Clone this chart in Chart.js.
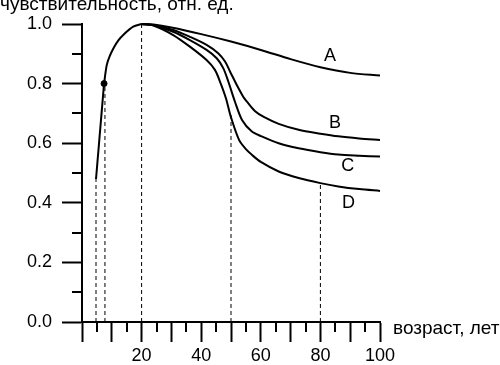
<!DOCTYPE html>
<html>
<head>
<meta charset="utf-8">
<script src="https://cdn.jsdelivr.net/npm/chart.js@4.4.1/dist/chart.umd.min.js"></script>
<style>
  html, body { margin: 0; padding: 0; background: #fff; }
</style>
</head>
<body>
<canvas id="chart" width="500" height="365"></canvas>
<script>
/* ---------- data (age in years, relative sensitivity) ---------- */
const riseAge = [4.7, 7.4];
const riseVal = [0.48, 0.80];

const youngAge = [7.4, 8.3, 9.3, 10.7, 12.2, 14.0, 17.2, 20];
const youngVal = [0.80, 0.862, 0.892, 0.921, 0.945, 0.965, 0.991, 1.0];

const ageA = [20, 24, 30, 40, 50, 60, 70, 80, 90, 100];
const valA = [1.0, 0.998, 0.988, 0.966, 0.941, 0.913, 0.882, 0.855, 0.836, 0.827];

const ageB = [20, 24, 30.6, 36.2, 41.8, 45.7, 48.0, 49.7, 51.9, 54.1, 55.3, 58, 61, 66, 72.7, 80, 86, 93, 100];
const valB = [1.0, 0.997, 0.980, 0.957, 0.930, 0.902, 0.874, 0.840, 0.796, 0.756, 0.740, 0.708, 0.688, 0.665, 0.645, 0.632, 0.623, 0.616, 0.611];

const ageC = [20, 24, 30.6, 36.2, 41.8, 45.2, 47.4, 49.1, 51.3, 53.7, 57, 60, 66, 72.7, 80, 86, 93, 100];
const valC = [1.0, 0.996, 0.974, 0.946, 0.913, 0.885, 0.852, 0.807, 0.740, 0.678, 0.639, 0.624, 0.600, 0.583, 0.570, 0.562, 0.558, 0.555];

const ageD = [20, 24, 30.6, 36.2, 41.8, 44.6, 46.3, 48.3, 49.9, 52.7, 55, 57, 60, 66, 72.7, 80, 86, 93, 100];
const valD = [1.0, 0.995, 0.963, 0.924, 0.879, 0.846, 0.807, 0.751, 0.690, 0.611, 0.580, 0.561, 0.537, 0.505, 0.483, 0.466, 0.455, 0.446, 0.440];

// dashed guide lines: age and the height they reach
const guideAge = [4.7, 7.7, 20, 50, 80];
const guideTop = [0.48, 0.80, 1.0, 0.70, 0.466];

// marked point on the rising part
const dotAge = [7.4];
const dotVal = [0.80];

// curve letters
const labelText = ["A", "B", "C", "D"];
const labelAge = [83.2, 84.9, 89.2, 89.4];
const labelVal = [0.893, 0.667, 0.522, 0.40];

const xTicksLabelled = [20, 40, 60, 80, 100];

const FONT = '"Liberation Sans", Arial, sans-serif';

function pts(xs, ys) {
  return xs.map((x, i) => ({ x: x, y: ys[i] }));
}

function curve(xs, ys) {
  return {
    data: pts(xs, ys),
    showLine: true,
    borderColor: "#000",
    borderWidth: 2,
    pointRadius: 0,
    tension: 0.3,
    clip: 6
  };
}

const datasets = [];
datasets.push(Object.assign(curve(riseAge, riseVal), { tension: 0 }));
datasets.push(curve(youngAge, youngVal));
datasets.push(curve(ageA, valA));
datasets.push(curve(ageB, valB));
datasets.push(curve(ageC, valC));
datasets.push(curve(ageD, valD));

guideAge.forEach((a, i) => {
  datasets.push({
    data: [{ x: a, y: 0 }, { x: a, y: guideTop[i] }],
    showLine: true,
    borderColor: "#000",
    borderWidth: 1,
    borderDash: [4, 3],
    pointRadius: 0,
    tension: 0,
    clip: 6
  });
});

datasets.push({
  data: pts(dotAge, dotVal),
  showLine: false,
  pointRadius: 3,
  pointBackgroundColor: "#000",
  pointBorderColor: "#000",
  clip: 6
});

/* ---------- minor ticks and free text ---------- */
const extras = {
  id: "extras",
  afterDraw(chart) {
    const { ctx, scales: { x, y } } = chart;
    ctx.save();
    ctx.strokeStyle = "#000";
    ctx.lineWidth = 2;
    ctx.beginPath();
    for (let v = 5; v < 100; v += 10) {
      const px = Math.round(x.getPixelForValue(v));
      ctx.moveTo(px, x.top);
      ctx.lineTo(px, x.top + 10);
    }
    for (let v = 0.1; v < 1; v += 0.2) {
      const py = Math.round(y.getPixelForValue(v));
      ctx.moveTo(y.right - 10, py);
      ctx.lineTo(y.right, py);
    }
    ctx.stroke();

    ctx.fillStyle = "#000";
    ctx.textBaseline = "alphabetic";
    ctx.textAlign = "left";
    ctx.font = "19px " + FONT;
    ctx.fillText("чувствительность, отн. ед.", 0, 10);
    ctx.fillText("возраст, лет", 393, 334);

    ctx.textAlign = "center";
    ctx.textBaseline = "middle";
    ctx.font = "18px " + FONT;
    labelText.forEach((t, i) => {
      ctx.fillText(t, x.getPixelForValue(labelAge[i]), y.getPixelForValue(labelVal[i]));
    });
    ctx.restore();
  }
};

new Chart(document.getElementById("chart"), {
  type: "scatter",
  data: { datasets: datasets },
  plugins: [extras],
  options: {
    responsive: false,
    animation: false,
    devicePixelRatio: 1,
    layout: { padding: { top: 24, right: 120, left: 0, bottom: 0 } },
    plugins: { legend: { display: false }, tooltip: { enabled: false } },
    scales: {
      x: {
        type: "linear",
        min: 0,
        max: 100,
        afterFit: s => { s.height = 43; },
        ticks: {
          stepSize: 10,
          autoSkip: false,
          maxRotation: 0,
          padding: 3,
          color: "#000",
          font: { family: FONT, size: 18 },
          callback: v => (xTicksLabelled.includes(v) ? String(v) : "")
        },
        grid: { drawOnChartArea: false, tickLength: 20, tickWidth: 2, tickColor: "#000" },
        border: { color: "#000", width: 2 }
      },
      y: {
        min: 0,
        max: 1,
        afterFit: s => { s.width = 82; },
        ticks: {
          stepSize: 0.2,
          padding: 10,
          color: "#000",
          font: { family: FONT, size: 18 },
          callback: v => v.toFixed(1)
        },
        grid: { drawOnChartArea: false, tickLength: 20, tickWidth: 2, tickColor: "#000" },
        border: { color: "#000", width: 2 }
      }
    }
  }
});
</script>
</body>
</html>
